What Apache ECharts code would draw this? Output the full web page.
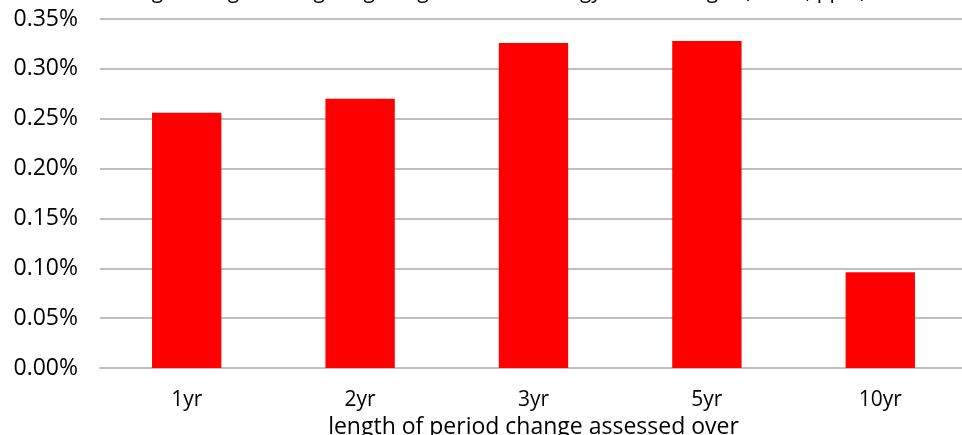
<!DOCTYPE html>
<html>
<head>
<meta charset="utf-8">
<script src="https://cdn.jsdelivr.net/npm/echarts@6/dist/echarts.min.js"></script>
<style>html,body{margin:0;padding:0;background:#fff}#c{width:962px;height:435px}</style>
</head>
<body>
<div id="c"></div>
<script>
const categories = ['1yr', '2yr', '3yr', '5yr', '10yr'];
const values = [0.256, 0.270, 0.326, 0.328, 0.096];
const chartTitle = 'Average change in weighting assigned to the energy sector weight (mean, ppts)';
const xAxisName = 'length of period change assessed over';

const chart = echarts.init(document.getElementById('c'));
const font = 'Open Sans';
chart.setOption({
  animation: false,
  title: {
    text: chartTitle,
    left: 'center',
    top: -23,
    textStyle: { fontFamily: font, fontSize: 21, fontWeight: 'normal', color: '#000' }
  },
  grid: { left: 100, right: -5, top: 19, bottom: 67, outerBoundsMode: 'none', containLabel: false },
  xAxis: {
    type: 'category',
    data: categories,
    name: xAxisName,
    nameLocation: 'middle',
    nameGap: 42,
    nameTextStyle: { fontFamily: font, fontSize: 23, color: '#000' },
    axisLine: { lineStyle: { color: '#bfbfbf', width: 2 } },
    axisTick: { show: false },
    axisLabel: { fontFamily: font, fontSize: 21, color: '#000', margin: 22 }
  },
  yAxis: {
    type: 'value',
    min: 0,
    max: 0.35,
    interval: 0.05,
    axisLine: { show: false },
    axisTick: { show: false },
    splitLine: { lineStyle: { color: '#bfbfbf', width: 2 } },
    axisLabel: {
      fontFamily: font, fontSize: 23, color: '#000', margin: 22,
      formatter: v => v.toFixed(2) + '%'
    }
  },
  series: [{
    type: 'bar',
    data: values,
    barWidth: '40%',
    itemStyle: { color: '#ff0000' }
  }]
});
</script>
</body>
</html>
